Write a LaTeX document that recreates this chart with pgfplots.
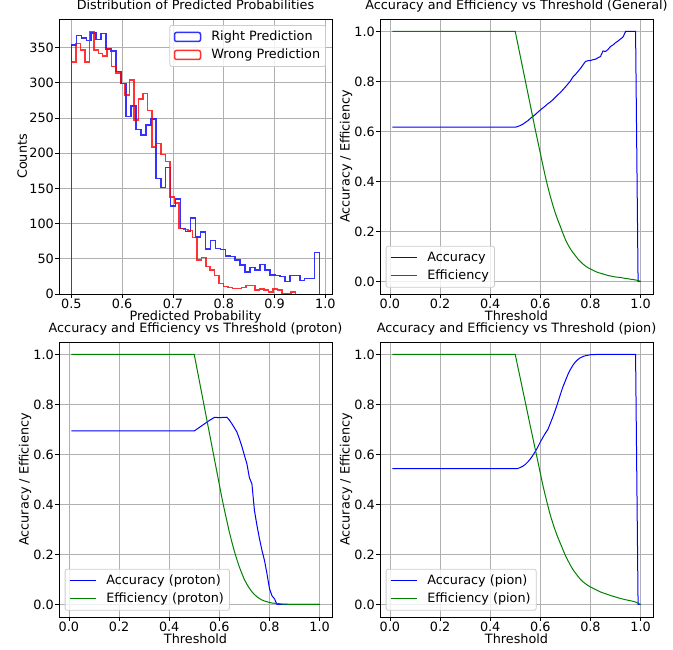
\documentclass[border=0pt]{standalone}
\usepackage{fontspec}
\setmainfont{DejaVu Sans}
\usepackage{pgfplots}
\usepackage{pgfplotstable}
\pgfplotsset{compat=1.18}
\definecolor{mplgreen}{RGB}{0,128,0}
\definecolor{gridgray}{RGB}{176,176,176}
\definecolor{legedge}{RGB}{204,204,204}
\newcommand{\mfont}{\fontsize{12.8pt}{15pt}\selectfont}

\pgfplotstableread{
x acc eff
0.01 0.617 1.000
0.50 0.617 1.000
0.51 0.620 0.951
0.52 0.624 0.902
0.53 0.629 0.853
0.54 0.636 0.804
0.55 0.643 0.755
0.56 0.652 0.706
0.57 0.660 0.656
0.58 0.668 0.607
0.59 0.677 0.560
0.60 0.686 0.513
0.61 0.694 0.466
0.62 0.702 0.420
0.63 0.711 0.378
0.64 0.718 0.340
0.65 0.727 0.305
0.66 0.737 0.273
0.67 0.747 0.245
0.68 0.756 0.220
0.69 0.767 0.193
0.70 0.778 0.168
0.71 0.790 0.148
0.72 0.802 0.130
0.73 0.818 0.116
0.74 0.828 0.103
0.75 0.840 0.090
0.76 0.852 0.080
0.77 0.866 0.070
0.78 0.880 0.062
0.79 0.883 0.055
0.80 0.884 0.050
0.81 0.887 0.045
0.82 0.889 0.040
0.83 0.895 0.036
0.84 0.900 0.033
0.85 0.922 0.030
0.86 0.920 0.027
0.87 0.928 0.024
0.88 0.940 0.022
0.89 0.946 0.020
0.90 0.955 0.018
0.91 0.962 0.017
0.92 0.970 0.016
0.93 0.978 0.014
0.94 1.000 0.012
0.95 1.000 0.011
0.96 1.000 0.009
0.97 1.000 0.008
0.98 1.000 0.006
0.99 0.000 0.004
1.00 0.000 0.000
}\general

\pgfplotstableread{
x acc eff
0.01 0.694 1.000
0.50 0.694 1.000
0.51 0.701 0.948
0.52 0.708 0.896
0.53 0.715 0.844
0.54 0.722 0.792
0.55 0.729 0.740
0.56 0.736 0.688
0.57 0.742 0.636
0.58 0.748 0.584
0.59 0.748 0.532
0.60 0.747 0.480
0.61 0.748 0.428
0.62 0.748 0.380
0.63 0.749 0.335
0.64 0.738 0.290
0.65 0.723 0.250
0.66 0.707 0.213
0.67 0.690 0.180
0.68 0.663 0.150
0.69 0.632 0.124
0.70 0.597 0.100
0.71 0.563 0.081
0.72 0.507 0.065
0.73 0.483 0.051
0.74 0.377 0.040
0.75 0.317 0.031
0.76 0.264 0.024
0.77 0.217 0.018
0.78 0.177 0.014
0.79 0.124 0.011
0.80 0.064 0.008
0.81 0.035 0.006
0.82 0.023 0.005
0.83 0.000 0.004
0.84 0.000 0.003
0.85 0.000 0.002
0.87 0.000 0.001
0.90 0.000 0.0005
1.00 0.000 0.000
}\proton

\pgfplotstableread{
x acc eff
0.01 0.543 1.000
0.50 0.543 1.000
0.51 0.544 0.952
0.52 0.548 0.905
0.53 0.553 0.857
0.54 0.560 0.810
0.55 0.570 0.762
0.56 0.582 0.714
0.57 0.596 0.667
0.58 0.612 0.620
0.59 0.630 0.573
0.60 0.650 0.525
0.61 0.668 0.478
0.62 0.685 0.435
0.63 0.700 0.395
0.64 0.725 0.357
0.65 0.750 0.325
0.66 0.778 0.295
0.67 0.808 0.268
0.68 0.840 0.244
0.69 0.870 0.220
0.70 0.895 0.196
0.71 0.920 0.176
0.72 0.940 0.157
0.73 0.957 0.140
0.74 0.970 0.126
0.75 0.980 0.113
0.76 0.987 0.101
0.77 0.992 0.091
0.78 0.995 0.083
0.79 0.997 0.076
0.80 0.999 0.070
0.82 1.000 0.060
0.84 1.000 0.050
0.86 1.000 0.043
0.88 1.000 0.036
0.90 1.000 0.030
0.92 1.000 0.024
0.94 1.000 0.019
0.96 1.000 0.015
0.98 1.000 0.010
0.99 0.000 0.005
1.00 0.000 0.000
}\pion

\pgfplotsset{
  every axis/.append style={font=\mfont},
  base/.style={
    scale only axis, width=273pt, height=275pt,
    axis line style={black, line width=0.8pt},
    grid=major, grid style={gridgray, line width=0.8pt},
    tick align=outside, major tick length=4pt,
    every tick/.style={black, line width=0.8pt},
    xtick pos=left, ytick pos=left,
    tick label style={font=\mfont},
    xticklabel style={inner sep=1pt},
    yticklabel style={inner sep=1pt},
    title style={font=\mfont, at={(0.5,1)}, anchor=base, yshift=3.5pt, inner sep=0pt},
    label style={font=\mfont},
    xlabel style={inner sep=1pt},
    ylabel style={inner sep=1pt},
    legend cell align=left,
    legend style={draw=legedge, line width=0.8pt, rounded corners=2pt, fill=white, fill opacity=0.8, text opacity=1, font=\mfont,
      inner xsep=4pt, inner ysep=4pt, row sep=3pt,
      nodes={inner sep=1.5pt, text height=9.5pt, text depth=2.5pt},
      /tikz/every odd column/.append style={column sep=8.5pt}},
  },
  thr/.style={base, xmin=-0.0395, xmax=1.0495, ymin=-0.05, ymax=1.05,
    xtick={0,0.2,0.4,0.6,0.8,1.0}, ytick={0,0.2,0.4,0.6,0.8,1.0},
    xticklabels={0.0,0.2,0.4,0.6,0.8,1.0}, yticklabels={0.0,0.2,0.4,0.6,0.8,1.0},
    xlabel={Threshold}, ylabel={Accuracy / Efficiency},
    legend style={at={(0.021,0.023)}, anchor=south west},
  },
  accline/.style={blue, line width=1pt,
    legend image code/.code={\draw[blue, line width=1.2pt] (0pt,0pt) -- (26pt,0pt);}},
  effline/.style={mplgreen, line width=1pt,
    legend image code/.code={\draw[mplgreen, line width=1.2pt] (0pt,0pt) -- (26pt,0pt);}},
}

\begin{document}
\begin{tikzpicture}
\useasboundingbox (0,0) rectangle (673pt,650pt);

% ---------- top left: histogram ----------
\begin{axis}[base, at={(59pt,356pt)}, anchor=south west,
  xmin=0.4756, xmax=1.0132, ymin=0, ymax=390.8,
  xtick={0.5,0.6,0.7,0.8,0.9,1.0}, xticklabels={0.5,0.6,0.7,0.8,0.9,1.0},
  ytick={0,50,100,150,200,250,300,350}, yticklabels={0,50,100,150,200,250,300,350},
  title={Distribution of Predicted Probabilities},
  xlabel={Predicted Probability}, ylabel={Counts},
  legend style={at={(0.978,0.978)}, anchor=north east},
]
\addplot[blue, opacity=0.8, line width=1.5pt, const plot,
  legend image code/.code={\draw[blue, opacity=0.8, line width=1.5pt] (0pt,-4.5pt) rectangle (26pt,4.5pt);}]
coordinates {
(0.5,0) (0.5,354) (0.50978,367) (0.51955,364) (0.52933,360) (0.53910,371) (0.54888,362)
(0.55866,370) (0.56843,348) (0.57821,345) (0.58798,316) (0.59776,299) (0.60754,252)
(0.61731,267) (0.62709,234) (0.63686,226) (0.64664,240) (0.65642,249) (0.66619,164)
(0.67597,151) (0.68574,180) (0.69552,125) (0.70530,135) (0.71507,93) (0.72485,89)
(0.73462,108) (0.74440,81) (0.75418,88) (0.76395,64) (0.77373,76) (0.78350,65)
(0.79328,63) (0.80306,54) (0.81283,53) (0.82261,48) (0.83238,41) (0.84216,31)
(0.85194,38) (0.86171,34) (0.87149,42) (0.88126,34) (0.89104,27) (0.90082,26)
(0.91059,25) (0.92037,18) (0.93014,26) (0.93992,26) (0.94970,19) (0.95947,22)
(0.96925,22) (0.97902,59) (0.9888,59) (0.9888,0)
};
\addlegendentry{Right Prediction}
\addplot[red, opacity=0.8, line width=1.5pt, const plot,
  legend image code/.code={\draw[red, opacity=0.8, line width=1.5pt] (0pt,-4.5pt) rectangle (26pt,4.5pt);}]
coordinates {
(0.5,0) (0.5,330) (0.50882,356) (0.51764,347) (0.52646,330) (0.53528,373) (0.5441,347)
(0.55292,342) (0.56174,338) (0.57056,348) (0.57938,323) (0.5882,314) (0.59702,299)
(0.60584,283) (0.61466,304) (0.62348,247) (0.6323,277) (0.64112,285) (0.64994,261)
(0.65876,209) (0.66758,214) (0.6764,198) (0.68522,188) (0.69404,138) (0.70286,129)
(0.71168,93) (0.7205,92) (0.72932,90) (0.73814,80) (0.74696,48) (0.75578,52)
(0.7646,39) (0.77342,34) (0.78224,26) (0.79106,15) (0.79988,11) (0.8087,9)
(0.81752,8) (0.82634,8) (0.83516,9) (0.84398,12) (0.8528,12) (0.86162,6)
(0.87044,7) (0.87926,6) (0.88808,3) (0.8969,7) (0.90572,6) (0.91454,1)
(0.92336,1) (0.93218,3) (0.941,3) (0.941,0)
};
\addlegendentry{Wrong Prediction}
\end{axis}

% ---------- top right: general ----------
\begin{axis}[thr, at={(380pt,356pt)}, anchor=south west,
  title={Accuracy and Efficiency vs Threshold (General)}]
\addplot[accline] table[x=x, y=acc] {\general};
\addlegendentry{Accuracy}
\addplot[effline] table[x=x, y=eff] {\general};
\addlegendentry{Efficiency}
\end{axis}

% ---------- bottom left: proton ----------
\begin{axis}[thr, at={(59pt,33pt)}, anchor=south west,
  title={Accuracy and Efficiency vs Threshold (proton)}]
\addplot[accline] table[x=x, y=acc] {\proton};
\addlegendentry{Accuracy (proton)}
\addplot[effline] table[x=x, y=eff] {\proton};
\addlegendentry{Efficiency (proton)}
\end{axis}

% ---------- bottom right: pion ----------
\begin{axis}[thr, at={(380pt,33pt)}, anchor=south west,
  title={Accuracy and Efficiency vs Threshold (pion)}]
\addplot[accline] table[x=x, y=acc] {\pion};
\addlegendentry{Accuracy (pion)}
\addplot[effline] table[x=x, y=eff] {\pion};
\addlegendentry{Efficiency (pion)}
\end{axis}
\end{tikzpicture}
\end{document}
